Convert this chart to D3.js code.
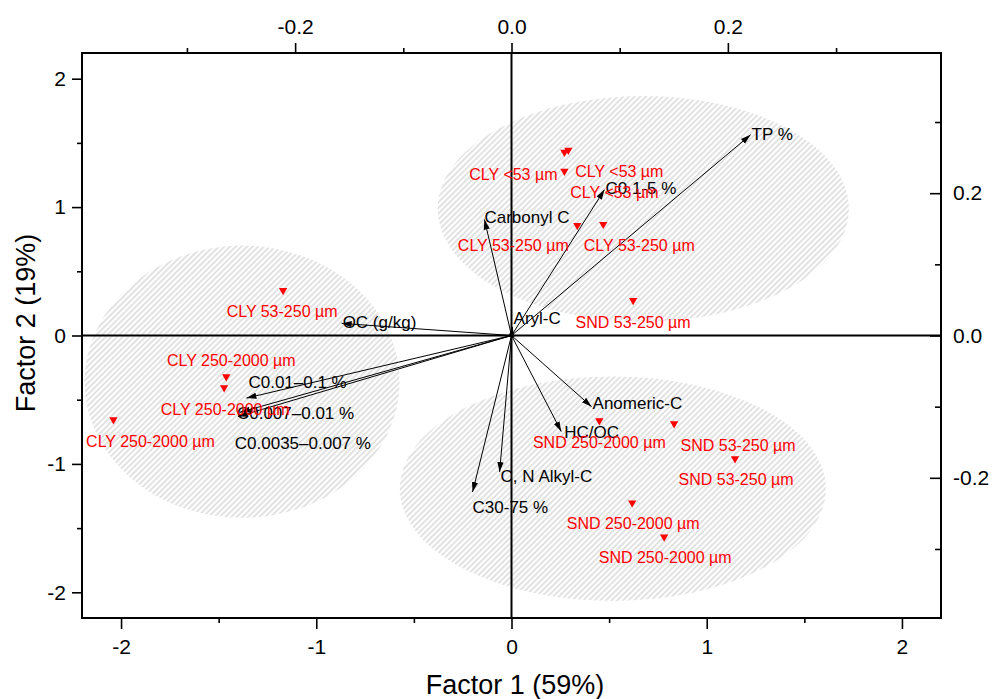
<!DOCTYPE html>
<html>
<head>
<meta charset="utf-8">
<script src="https://cdn.jsdelivr.net/npm/d3@7"></script>
<style>
  body { margin: 0; background: #fff; }
  text { font-family: "Liberation Sans", Arial, sans-serif; }
</style>
</head>
<body>
<svg id="chart" width="993" height="699"></svg>
<script>
// sample scores (Factor 1, Factor 2)
var scoreNames = ["CLY <53 µm", "CLY <53 µm", "CLY <53 µm",
    "CLY 53-250 µm", "CLY 53-250 µm", "CLY 53-250 µm",
    "CLY 250-2000 µm", "CLY 250-2000 µm", "CLY 250-2000 µm",
    "SND 53-250 µm", "SND 53-250 µm", "SND 53-250 µm",
    "SND 250-2000 µm", "SND 250-2000 µm", "SND 250-2000 µm"];
var scoreF1 = [0.271, 0.291, 0.271, 0.337, 0.470, -1.170, -1.461, -1.472, -2.039,
    0.623, 0.833, 1.145, 0.450, 0.618, 0.782];
var scoreF2 = [1.427, 1.443, 1.279, 0.858, 0.866, 0.351, -0.320, -0.406, -0.655,
    0.273, -0.686, -0.959, -0.663, -1.303, -1.568];

// variable loadings (top / right axes)
var loadNames = ["TP %", "C0.1-5 %", "Carbonyl C", "Aryl-C", "OC (g/kg)",
    "C0.01\u20130.1 %", "C0.007\u20130.01 %", "C0.0035\u20130.007 %",
    "Anomeric-C", "HC/OC", "C, N Alkyl-C", "C30-75 %"];
var loadF1 = [0.221, 0.086, -0.025, 0.001, -0.157, -0.245, -0.251, -0.253, 0.074, 0.046, -0.011, -0.036];
var loadF2 = [0.282, 0.205, 0.163, 0.012, 0.017, -0.088, -0.108, -0.114, -0.100, -0.135, -0.192, -0.220];

// group ellipses: centre and radii in score units
var ellipseCx = [0.675, -1.380, 0.519];
var ellipseCy = [0.987, -0.360, -1.193];
var ellipseRx = [1.053, 0.807, 1.091];
var ellipseRy = [0.878, 1.060, 0.874];

var bottomTicks = [-2, -1, 0, 1, 2],
    leftTicks = [-2, -1, 0, 1, 2],
    topTicks = [-0.2, 0.0, 0.2],
    rightTicks = [-0.2, 0.0, 0.2];

// label nudges in px (layout only)
var scoreLabelShift = [[-51, 28], [51, 27], [50, 27], [-64, 26], [36, 27], [-1, 27],
    [5, -11], [1, 27], [37, 27], [0, 28], [64, 27], [1, 26], [0, 27], [1, 26], [1, 26]];
var loadLabelShift = [[1, 5], [1, 4], [0, 3], [1, -3], [1, 5], [2, -10], [-3, 7], [-3, 32],
    [1, 2], [3, 6], [1, 10], [0, 21]];

var svg = d3.select("#chart"),
    pL = 82, pR = 941, pT = 53, pB = 618;

var x = d3.scaleLinear().domain([-2.2, 2.2]).range([pL, pR]),
    y = d3.scaleLinear().domain([-2.2, 2.2]).range([pB, pT]),
    x2 = d3.scaleLinear().domain([-0.397, 0.397]).range([pL, pR]),
    y2 = d3.scaleLinear().domain([-0.397, 0.397]).range([pB, pT]);

var defs = svg.append("defs");
var pat = defs.append("pattern")
    .attr("id", "hatch")
    .attr("patternUnits", "userSpaceOnUse")
    .attr("width", 4).attr("height", 4)
    .attr("patternTransform", "rotate(45)");
pat.append("rect").attr("width", 4).attr("height", 4).attr("fill", "#fff");
pat.append("line").attr("x1", 1).attr("y1", 0).attr("x2", 1).attr("y2", 4)
    .attr("stroke", "#d6d6d6").attr("stroke-width", 1.4);

defs.append("clipPath").attr("id", "plotClip")
    .append("rect").attr("x", pL).attr("y", pT)
    .attr("width", pR - pL).attr("height", pB - pT);

defs.append("marker")
    .attr("id", "arrow")
    .attr("viewBox", "0 0 10 10")
    .attr("refX", 10).attr("refY", 5)
    .attr("markerWidth", 10).attr("markerHeight", 10)
    .attr("markerUnits", "userSpaceOnUse")
    .attr("orient", "auto")
    .append("path").attr("d", "M0,1.9L10,5L0,8.1Z").attr("fill", "#000");

// ellipses
svg.append("g").attr("clip-path", "url(#plotClip)")
    .selectAll("ellipse")
    .data(ellipseCx)
    .enter().append("ellipse")
    .attr("cx", function(d) { return x(d); })
    .attr("cy", function(d, i) { return y(ellipseCy[i]); })
    .attr("rx", function(d, i) { return x(ellipseRx[i]) - x(0); })
    .attr("ry", function(d, i) { return y(0) - y(ellipseRy[i]); })
    .attr("fill", "url(#hatch)");

// zero lines
svg.append("line").attr("x1", pL).attr("x2", pR).attr("y1", y(0)).attr("y2", y(0))
    .attr("stroke", "#000").attr("stroke-width", 2);
svg.append("line").attr("x1", x(0)).attr("x2", x(0)).attr("y1", pT).attr("y2", pB)
    .attr("stroke", "#000").attr("stroke-width", 2);

// axes
function styleAxis(g) {
    g.select(".domain").remove();
    g.attr("font-size", 21).attr("font-family", "'Liberation Sans', Arial, sans-serif");
    g.selectAll("line").attr("stroke", "#000").attr("stroke-width", 1.6);
    g.selectAll("text").attr("fill", "#000");
}
function fmt1(d) { return d.toFixed(1); }
function fmt0(d) { return String(d); }

svg.append("g").attr("transform", "translate(0," + pB + ")")
    .call(d3.axisBottom(x).tickValues(bottomTicks).tickFormat(fmt0).tickSize(11).tickPadding(10))
    .call(styleAxis);
svg.append("g").attr("transform", "translate(0," + pB + ")")
    .call(d3.axisBottom(x).tickValues([-1.5, -0.5, 0.5, 1.5]).tickFormat("").tickSize(5))
    .call(styleAxis);

svg.append("g").attr("transform", "translate(" + pL + ",0)")
    .call(d3.axisLeft(y).tickValues(leftTicks).tickFormat(fmt0).tickSize(10).tickPadding(6))
    .call(styleAxis);
svg.append("g").attr("transform", "translate(" + pL + ",0)")
    .call(d3.axisLeft(y).tickValues([-1.5, -0.5, 0.5, 1.5]).tickFormat("").tickSize(5))
    .call(styleAxis);

svg.append("g").attr("transform", "translate(0," + pT + ")")
    .call(d3.axisTop(x2).tickValues(topTicks).tickFormat(fmt1).tickSize(10).tickPadding(9))
    .call(styleAxis);
svg.append("g").attr("transform", "translate(0," + pT + ")")
    .call(d3.axisTop(x2).tickValues([-0.3, -0.1, 0.1, 0.3]).tickFormat("").tickSize(5))
    .call(styleAxis);

svg.append("g").attr("transform", "translate(" + pR + ",0)")
    .call(d3.axisRight(y2).tickValues(rightTicks).tickFormat(fmt1).tickSize(-11).tickPadding(12))
    .call(styleAxis);
svg.append("g").attr("transform", "translate(" + pR + ",0)")
    .call(d3.axisRight(y2).tickValues([-0.3, -0.1, 0.1, 0.3]).tickFormat("").tickSize(-6))
    .call(styleAxis);

// frame
svg.append("rect").attr("x", pL).attr("y", pT)
    .attr("width", pR - pL).attr("height", pB - pT)
    .attr("fill", "none").attr("stroke", "#000").attr("stroke-width", 2);

// loading vectors
var vec = svg.append("g");
vec.selectAll("line")
    .data(loadNames)
    .enter().append("line")
    .attr("x1", x2(0)).attr("y1", y2(0))
    .attr("x2", function(d, i) { return x2(loadF1[i]); })
    .attr("y2", function(d, i) { return y2(loadF2[i]); })
    .attr("stroke", "#000").attr("stroke-width", 1)
    .attr("marker-end", "url(#arrow)");
vec.selectAll("text")
    .data(loadNames)
    .enter().append("text")
    .attr("x", function(d, i) { return x2(loadF1[i]) + loadLabelShift[i][0]; })
    .attr("y", function(d, i) { return y2(loadF2[i]) + loadLabelShift[i][1]; })
    .attr("font-size", 17).attr("fill", "#000")
    .text(function(d) { return d; });

// score points
var pts = svg.append("g");
pts.selectAll("path")
    .data(scoreNames)
    .enter().append("path")
    .attr("d", d3.symbol().type(d3.symbolTriangle).size(30))
    .attr("transform", function(d, i) {
        return "translate(" + x(scoreF1[i]) + "," + y(scoreF2[i]) + ") rotate(180)";
    })
    .attr("fill", "#ff0000");
pts.selectAll("text")
    .data(scoreNames)
    .enter().append("text")
    .attr("x", function(d, i) { return x(scoreF1[i]) + scoreLabelShift[i][0]; })
    .attr("y", function(d, i) { return y(scoreF2[i]) + scoreLabelShift[i][1]; })
    .attr("text-anchor", "middle")
    .attr("font-size", 16).attr("fill", "#ff0000")
    .text(function(d) { return d; });

// axis titles
svg.append("text").attr("x", 515).attr("y", 694)
    .attr("text-anchor", "middle").attr("font-size", 27)
    .text("Factor 1 (59%)");
svg.append("text")
    .attr("transform", "translate(35,323) rotate(-90)")
    .attr("text-anchor", "middle").attr("font-size", 27)
    .text("Factor 2 (19%)");
</script>
</body>
</html>
